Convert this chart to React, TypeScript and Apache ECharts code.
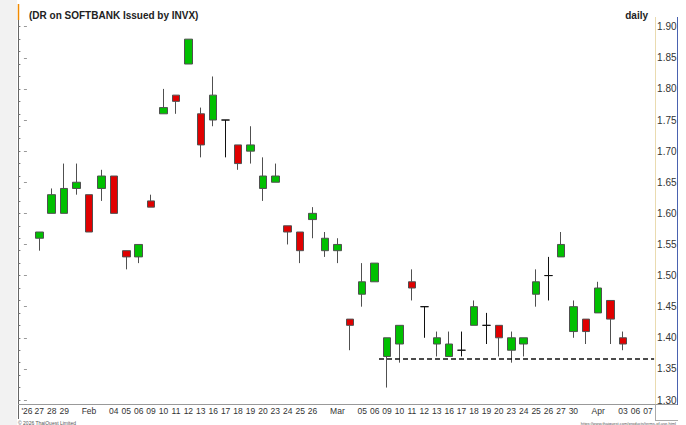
import React, { useEffect, useRef } from 'react';
import * as echarts from 'echarts';

// Trading-day categories (first slot and last two slots are empty)
const dates: string[] = [
  'Jan 26', 'Jan 27', 'Jan 28', 'Jan 29', 'Jan 30', 'Feb 02', 'Feb 03', 'Feb 04', 'Feb 05', 'Feb 06',
  'Feb 09', 'Feb 10', 'Feb 11', 'Feb 12', 'Feb 13', 'Feb 16', 'Feb 17', 'Feb 18', 'Feb 19', 'Feb 20',
  'Feb 23', 'Feb 24', 'Feb 25', 'Feb 26', 'Feb 27', 'Mar 02', 'Mar 04', 'Mar 05', 'Mar 06', 'Mar 09',
  'Mar 10', 'Mar 11', 'Mar 12', 'Mar 13', 'Mar 16', 'Mar 17', 'Mar 18', 'Mar 19', 'Mar 20', 'Mar 23',
  'Mar 24', 'Mar 25', 'Mar 26', 'Mar 27', 'Mar 30', 'Mar 31', 'Apr 01', 'Apr 02', 'Apr 03', 'Apr 06',
  'Apr 07',
];

const xTickLabels: string[] = [
  "'26", '27', '28', '29', '', 'Feb', '', '04', '05', '06',
  '09', '10', '11', '12', '13', '16', '17', '18', '19', '20',
  '23', '24', '25', '26', '', 'Mar', '', '05', '06', '09',
  '10', '11', '12', '13', '16', '17', '18', '19', '20', '23',
  '24', '25', '26', '27', '30', '', 'Apr', '', '03', '06',
  '07',
];

const opens: (number | null)[] = [
  null, 1.56, 1.60, 1.60, 1.64, 1.63, 1.64, 1.66, 1.54, 1.53,
  1.62, 1.76, 1.79, 1.84, 1.76, 1.75, 1.75, 1.71, 1.70, 1.64,
  1.65, 1.58, 1.57, 1.59, 1.54, 1.54, 1.43, 1.47, 1.49, 1.37,
  1.39, 1.49, 1.45, 1.39, 1.37, 1.38, 1.42, 1.42, 1.42, 1.38,
  1.39, 1.47, 1.50, 1.53, 1.41, 1.43, 1.44, 1.46, 1.40, null,
  null,
];
const closes: (number | null)[] = [
  null, 1.57, 1.63, 1.64, 1.65, 1.57, 1.66, 1.60, 1.53, 1.55,
  1.61, 1.77, 1.78, 1.88, 1.71, 1.79, 1.75, 1.68, 1.71, 1.66,
  1.66, 1.57, 1.54, 1.60, 1.56, 1.55, 1.42, 1.49, 1.52, 1.40,
  1.42, 1.48, 1.45, 1.40, 1.39, 1.38, 1.45, 1.42, 1.40, 1.40,
  1.40, 1.49, 1.50, 1.55, 1.45, 1.41, 1.48, 1.43, 1.39, null,
  null,
];
const lows: (number | null)[] = [
  null, 1.54, 1.60, 1.60, 1.63, 1.57, 1.62, 1.60, 1.51, 1.52,
  1.61, 1.76, 1.76, 1.84, 1.69, 1.74, 1.69, 1.67, 1.68, 1.62,
  1.65, 1.55, 1.52, 1.56, 1.53, 1.52, 1.38, 1.45, 1.49, 1.32,
  1.36, 1.46, 1.40, 1.37, 1.37, 1.37, 1.42, 1.39, 1.37, 1.36,
  1.37, 1.45, 1.46, 1.53, 1.40, 1.39, 1.44, 1.39, 1.38, null,
  null,
];
const highs: (number | null)[] = [
  null, 1.57, 1.64, 1.68, 1.68, 1.63, 1.67, 1.66, 1.54, 1.55,
  1.63, 1.80, 1.79, 1.88, 1.77, 1.82, 1.75, 1.71, 1.74, 1.69,
  1.68, 1.58, 1.57, 1.61, 1.57, 1.56, 1.43, 1.52, 1.52, 1.40,
  1.42, 1.51, 1.45, 1.41, 1.41, 1.41, 1.46, 1.44, 1.42, 1.41,
  1.40, 1.51, 1.53, 1.57, 1.46, 1.43, 1.49, 1.46, 1.41, null,
  null,
];

const yTicks = { min: 1.3, max: 1.9, step: 0.05, minorStep: 0.02 };
const supportLevel = 1.366;
const supportFrom = 28.35; // position along the day axis (slot index)
const supportTo = 50.5;
const lastPrice = 1.39;

const FONT = '"Liberation Sans", Arial, Helvetica, sans-serif';

export default function App() {
  const ref = useRef<HTMLDivElement>(null);

  useEffect(() => {
    document.body.style.margin = '0';
    if (!ref.current) return;
    const chart = echarts.init(ref.current, undefined, { renderer: 'svg' });

    const ohlc = dates.map((_, i) =>
      opens[i] == null ? '-' : [opens[i], closes[i], lows[i], highs[i]]
    );

    const gridLeft = 20.7;
    const gridRight = 686 - 654.1;
    const gridTop = 26.7;
    const gridBottom = 425 - 400;

    const option: any = {
      animation: false,
      backgroundColor: '#ffffff',
      textStyle: { fontFamily: FONT },
      title: [
        {
          text: '(DR on SOFTBANK Issued by INVX)',
          left: 24,
          top: 5,
          textStyle: { fontSize: 10, fontWeight: 'bold', color: '#222', fontFamily: FONT },
        },
        {
          text: 'daily',
          right: 33,
          top: 5,
          textStyle: { fontSize: 10, fontWeight: 'bold', color: '#222', fontFamily: FONT },
        },
      ],
      grid: { left: gridLeft, right: gridRight, top: gridTop, bottom: gridBottom },
      xAxis: [
        {
          type: 'category',
          data: dates,
          boundaryGap: true,
          axisLine: { show: false },
          axisTick: { show: false },
          splitLine: { show: false },
          axisLabel: {
            interval: 0,
            margin: 6,
            fontSize: 8.5,
            color: '#333',
            fontFamily: FONT,
            formatter: (_v: string, i: number) => xTickLabels[i],
          },
        },
        {
          type: 'value',
          min: -0.5,
          max: dates.length - 0.5,
          show: false,
        },
      ],
      yAxis: [
        {
          type: 'value',
          position: 'right',
          min: yTicks.min,
          max: yTicks.max,
          interval: yTicks.step,
          axisLine: { show: false },
          axisTick: { show: true, inside: true, length: 3, lineStyle: { color: '#999' } },
          splitLine: { show: false },
          axisLabel: {
            margin: 3,
            fontSize: 10,
            color: '#333',
            fontFamily: FONT,
            formatter: (v: number) => v.toFixed(2),
          },
        },
        {
          type: 'value',
          position: 'left',
          min: yTicks.min,
          max: yTicks.max,
          interval: yTicks.minorStep,
          offset: 2.3,
          axisLine: { show: false },
          axisTick: { show: true, inside: true, length: 2, lineStyle: { color: '#777' } },
          axisLabel: { show: false },
          splitLine: { show: false },
        },
      ],
      series: [
        {
          type: 'candlestick',
          data: ohlc,
          barWidth: 8,
          xAxisIndex: 0,
          yAxisIndex: 0,
          itemStyle: {
            color: '#00c000',
            color0: '#e00000',
            borderColor: '#505050',
            borderColor0: '#505050',
            borderColorDoji: '#111',
            borderWidth: 1,
          },
          markLine: {
            silent: true,
            symbol: ['none', 'none'],
            lineStyle: { opacity: 0 },
            label: {
              show: true,
              position: 'end',
              distance: 2,
              formatter: () => lastPrice.toFixed(2),
              color: '#fff',
              backgroundColor: '#3f6fe0',
              fontSize: 10,
              lineHeight: 9,
              fontFamily: FONT,
              padding: [0, 1, 0, 1],
            },
            data: [{ yAxis: lastPrice }],
          },
        },
        {
          type: 'line',
          xAxisIndex: 1,
          yAxisIndex: 0,
          data: [
            [supportFrom, supportLevel],
            [supportTo, supportLevel],
          ],
          symbol: 'none',
          silent: true,
          lineStyle: { color: '#111', width: 1.5, type: [5, 3] },
          z: 3,
        },
      ],
      graphic: [
        { type: 'rect', shape: { x: 0, y: 0, width: 17, height: 425 }, style: { fill: '#f2f2f2' }, silent: true },
        { type: 'line', shape: { x1: 18.5, y1: 20, x2: 18.5, y2: 419 }, style: { stroke: '#666', lineWidth: 1 }, silent: true },
        { type: 'line', shape: { x1: 18.5, y1: 4, x2: 18.5, y2: 20 }, style: { stroke: '#f08a00', lineWidth: 1.5 }, silent: true },
        { type: 'line', shape: { x1: 18, y1: 404.5, x2: 678, y2: 404.5 }, style: { stroke: '#999', lineWidth: 1 }, silent: true },
        { type: 'line', shape: { x1: 655.5, y1: 17, x2: 655.5, y2: 404 }, style: { stroke: '#eadbb0', lineWidth: 1 }, silent: true },
        { type: 'line', shape: { x1: 655.5, y1: 404, x2: 655.5, y2: 420 }, style: { stroke: '#aaa', lineWidth: 1 }, silent: true },
        { type: 'line', shape: { x1: 677.5, y1: 17, x2: 677.5, y2: 405 }, style: { stroke: '#4a62b0', lineWidth: 1 }, silent: true },
        { type: 'line', shape: { x1: 655, y1: 420.5, x2: 678, y2: 420.5 }, style: { stroke: '#aaa', lineWidth: 1 }, silent: true },
        {
          type: 'text',
          x: 18,
          y: 420,
          style: { text: '© 2026 ThaiQuest Limited', fontSize: 5, fill: '#555', fontFamily: FONT },
          silent: true,
        },
        {
          type: 'text',
          x: 676,
          y: 421,
          style: {
            text: 'https://www.thaiquest.com/products/terms-of-use.html',
            fontSize: 4,
            fill: '#555',
            fontFamily: FONT,
            align: 'right',
          },
          silent: true,
        },
      ],
    };

    chart.setOption(option);
    return () => chart.dispose();
  }, []);

  return <div ref={ref} style={{ width: 686, height: 425 }} />;
}
